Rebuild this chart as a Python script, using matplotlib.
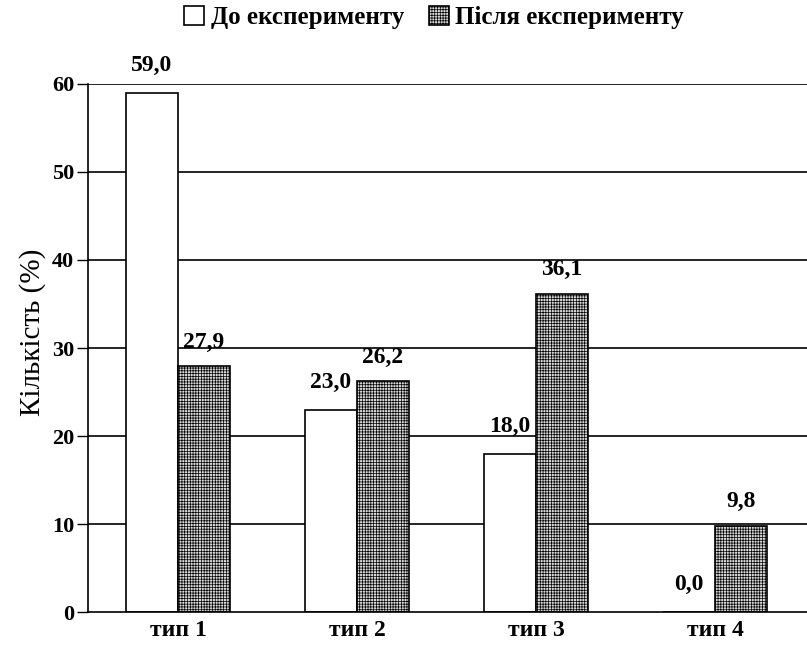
import numpy as np
import matplotlib
matplotlib.use('Agg')
import matplotlib.pyplot as plt

# data
categories = ['тип 1', 'тип 2', 'тип 3', 'тип 4']
before = [59.0, 23.0, 18.0, 0.0]
after = [27.9, 26.2, 36.1, 9.8]
series_names = ['До експерименту', 'Після експерименту']

plt.rcParams['font.family'] = ['Liberation Serif', 'DejaVu Serif']
plt.rcParams['hatch.color'] = '#8c8c8c'
plt.rcParams['hatch.linewidth'] = 0.5

fig = plt.figure(figsize=(8.07, 6.56), dpi=100)
ax = fig.add_axes([0.109, 0.067, 0.891, 0.805])

x = np.arange(len(categories))
w = 0.29

# gridlines behind bars
for v in range(10, 70, 10):
    ax.axhline(v, color='black', lw=1.2, zorder=0)

b1 = ax.bar(x - w / 2, before, w, facecolor='white', edgecolor='black', lw=1.2, zorder=2)
b2 = ax.bar(x + w / 2, after, w, facecolor='#d8d8d8', edgecolor='black', lw=1.2,
            hatch='++++++', zorder=2)

def fmt(v):
    return f'{v:.1f}'.replace('.', ',')

for rect, v in zip(b1, before):
    ax.annotate(fmt(v), (rect.get_x() + rect.get_width() / 2, v), xytext=(0, 12),
                textcoords='offset points', ha='center', va='bottom',
                fontsize=17, fontweight='bold')
for rect, v in zip(b2, after):
    ax.annotate(fmt(v), (rect.get_x() + rect.get_width() / 2, v), xytext=(0, 10),
                textcoords='offset points', ha='center', va='bottom',
                fontsize=17, fontweight='bold')

ax.set_xlim(-0.503, 3.514)
ax.set_ylim(0, 60)
ax.set_yticks(range(0, 70, 10))
ax.set_xticks(x)
ax.set_xticklabels(categories, fontsize=17, fontweight='bold')
ax.tick_params(axis='x', length=0, pad=6)
ax.tick_params(axis='y', length=8, width=1, labelsize=16, pad=2)
for lab in ax.get_yticklabels():
    lab.set_fontweight('bold')

ax.spines['top'].set_visible(False)
ax.spines['right'].set_visible(False)
ax.spines['left'].set_linewidth(1.2)
ax.spines['bottom'].set_linewidth(1.2)

ax.set_ylabel('Кількість (%)', fontsize=21, va='center')
ax.yaxis.set_label_coords(-0.077, 0.53)

leg = fig.legend([b1, b2], series_names, loc='center', bbox_to_anchor=(0.538, 0.973),
                 ncol=2, frameon=False, handlelength=0.8, handleheight=0.8,
                 handletextpad=0.25, columnspacing=1.0,
                 prop={'size': 18, 'weight': 'bold', 'family': 'Liberation Serif'})

fig.savefig('out.png', dpi=100)
